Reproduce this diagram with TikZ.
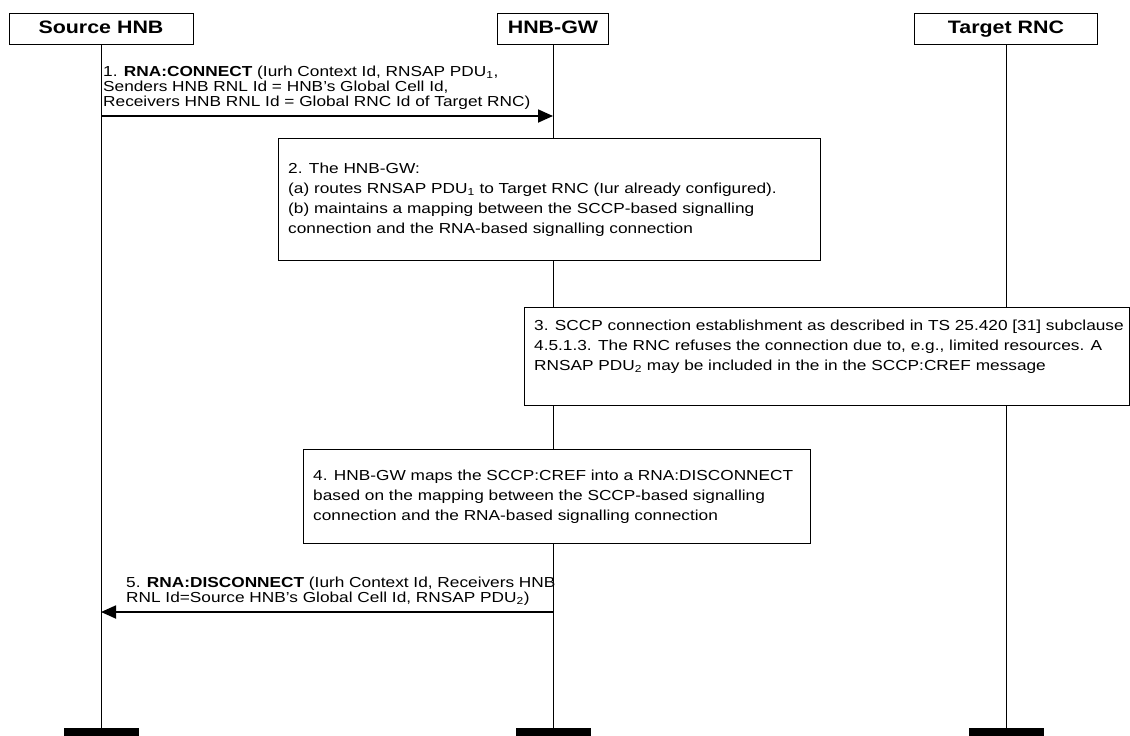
\documentclass[tikz,border=0pt]{standalone}
\usepackage{fontspec}
\setmainfont[FakeStretch=1.19]{Liberation Sans}
\usepackage{tikz}
\usetikzlibrary{arrows.meta,positioning}
\tikzset{%
  hnbhead/.style={%
    draw,
    line width=1pt,
    fill=white,
    minimum height=31pt,
    inner sep=0pt,
    text height=13pt,
    text depth=3pt,
    font=\fontsize{18}{20}\selectfont\bfseries
  },
  hnbbar/.style={fill=black,minimum width=75pt,minimum height=8pt,inner sep=0pt},
  hnblife/.style={line width=1pt},
  hnbnote/.style={draw,line width=1pt,fill=white,inner sep=0pt},
  hnbtext/.style={align=left,inner sep=0pt,font=\fontsize{14.5}{20}\selectfont},
  hnblabel/.style={align=left,inner sep=0pt,font=\fontsize{14.5}{15}\selectfont},
  hnbmsg/.style={-{Triangle[length=15pt,width=13pt]},line width=1.8pt}
}
\begin{document}
\begin{tikzpicture}[x=1pt,y=-1pt]
  \useasboundingbox (0,0) rectangle (1130,736);

  % entities and their ends
  \node[hnbhead,minimum width=184pt] (src) at (101,28.5) {Source HNB};
  \node[hnbhead,minimum width=111pt] (gw) at (553,28.5) {HNB-GW};
  \node[hnbhead,minimum width=183pt] (rnc) at (1006,28.5) {Target RNC};
  \node[hnbbar] (srcend) at (101,732) {};
  \node[hnbbar] (gwend) at (553,732) {};
  \node[hnbbar] (rncend) at (1006,732) {};

  \draw[hnblife] (src) -- (srcend);
  \draw[hnblife] (gw) -- (gwend);
  \draw[hnblife] (rnc) -- (rncend);

  % 1. connect
  \coordinate (m1a) at (101,116);
  \coordinate (m1b) at (553,116);
  \draw[hnbmsg] (m1a) -- (m1b);
  \node[hnblabel,anchor=south west] (m1txt) at (103,110) {1. \textbf{RNA:CONNECT} (Iurh Context Id, RNSAP PDU\textsubscript{1},\\Senders HNB RNL Id = HNB's Global Cell Id,\\Receivers HNB RNL Id = Global RNC Id of Target RNC)};

  % 2. routing in the gateway
  \node[hnbnote,minimum width=542pt,minimum height=122pt,anchor=north west] (route) at (278,138) {};
  \node[hnbtext,anchor=west] (routetxt) at ([xshift=10pt]route.west) {2. The HNB-GW:\\(a) routes RNSAP PDU\textsubscript{1} to Target RNC (Iur already configured).\\(b) maintains a mapping between the SCCP-based signalling\\connection and the RNA-based signalling connection};

  % 3. sccp refusal
  \node[hnbnote,minimum width=605pt,minimum height=98pt,anchor=north west] (refuse) at (524,307) {};
  \node[hnbtext,anchor=north west] (refusetxt) at ([xshift=10pt,yshift=-13pt]refuse.north west) {3. SCCP connection establishment as described in TS 25.420 [31] subclause\\4.5.1.3. The RNC refuses the connection due to, e.g., limited resources. A\\RNSAP PDU\textsubscript{2} may be included in the in the SCCP:CREF message};

  % 4. mapping to disconnect
  \node[hnbnote,minimum width=507pt,minimum height=94pt,anchor=north west] (mapping) at (303,449) {};
  \node[hnbtext,anchor=west] (mappingtxt) at ([xshift=10pt]mapping.west) {4. HNB-GW maps the SCCP:CREF into a RNA:DISCONNECT\\based on the mapping between the SCCP-based signalling\\connection and the RNA-based signalling connection};

  % 5. disconnect
  \coordinate (m5a) at (553,612);
  \coordinate (m5b) at (101,612);
  \draw[hnbmsg] (m5a) -- (m5b);
  \node[hnblabel,anchor=south west] (m5txt) at (126,606) {5. \textbf{RNA:DISCONNECT} (Iurh Context Id, Receivers HNB\\RNL Id=Source HNB's Global Cell Id, RNSAP PDU\textsubscript{2})};
\end{tikzpicture}
\end{document}
